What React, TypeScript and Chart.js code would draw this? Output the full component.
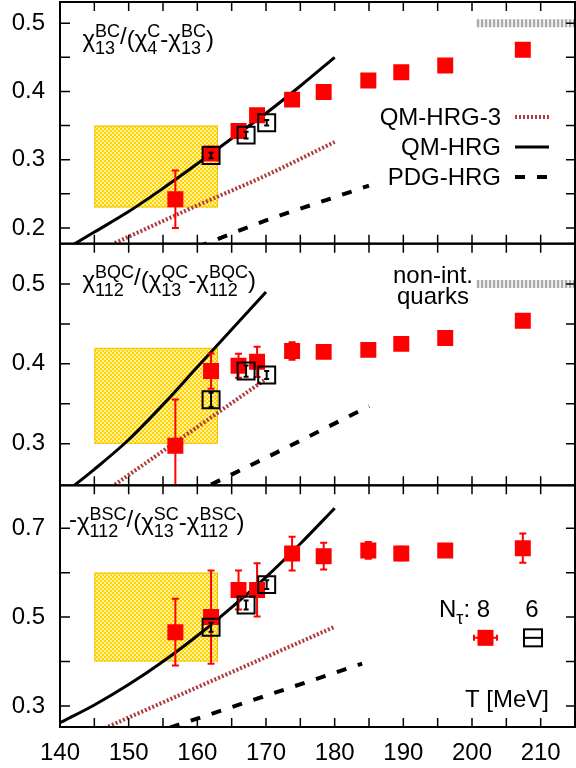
import React, { useEffect, useRef } from 'react';
import { Chart, registerables } from 'chart.js';

Chart.register(...registerables);

const FONT = '"Liberation Sans", Arimo, Arial, Helvetica, sans-serif';

// ---------------- data ----------------
const latticeT8 = [156.8, 162, 166, 168.7, 173.8, 178.4, 184.9, 189.7, 196.1, 207.4];
const latticeT6 = [162, 167.1, 170.1];

// panel 1: chi13^BC / (chi4^C - chi13^BC)
const bcNt8 = [0.242, 0.309, 0.342, 0.365, 0.388, 0.399, 0.416, 0.428, 0.438, 0.461];
const bcNt8Err = [0.042, 0.004, 0.004, 0.004, 0.004, 0.003, 0.003, 0.003, 0.003, 0.003];
const bcNt6 = [0.306, 0.336, 0.354];
const bcNt6Err = [0.004, 0.005, 0.004];
const bcQmT = [140, 145, 150, 155, 160, 165, 170, 175, 180];
const bcQm = [0.164, 0.194, 0.224, 0.258, 0.294, 0.331, 0.368, 0.408, 0.45];
const bcQm3T = [148, 160, 170, 180];
const bcQm3 = [0.178, 0.233, 0.277, 0.326];
const bcPdgT = [160, 170, 180, 185];
const bcPdg = [0.172, 0.211, 0.245, 0.262];
const bcBox = [0.23, 0.35];

// panel 2: chi112^BQC / (chi13^QC - chi112^BQC)
const bqcNt8 = [0.2975, 0.391, 0.3975, 0.4025, 0.416, 0.415, 0.4175, 0.425, 0.4325, 0.454];
const bqcNt8Err = [0.058, 0.022, 0.015, 0.019, 0.011, 0.005, 0.004, 0.004, 0.004, 0.004];
const bqcNt6 = [0.355, 0.391, 0.386];
const bqcNt6Err = [0.009, 0.007, 0.005];
const bqcQmT = [140, 145, 150, 155, 160, 165, 170];
const bqcQm = [0.234, 0.268, 0.305, 0.349, 0.396, 0.443, 0.49];
const bqcQm3T = [148, 160, 170];
const bqcQm3 = [0.249, 0.321, 0.381];
const bqcPdgT = [162, 172, 185];
const bqcPdg = [0.249, 0.291, 0.347];
const bqcBox = [0.3, 0.42];

// panel 3: -chi112^BSC / (chi13^SC - chi112^BSC)
const bscNt8 = [0.466, 0.5, 0.561, 0.561, 0.643, 0.637, 0.65, 0.643, 0.65, 0.655];
const bscNt8Err = [0.075, 0.105, 0.044, 0.06, 0.038, 0.03, 0.019, 0.015, 0.012, 0.033];
const bscNt6 = [0.477, 0.527, 0.573];
const bscNt6Err = [0.01, 0.01, 0.01];
const bscQmT = [140, 145, 150, 155, 160, 165, 170, 175, 180];
const bscQm = [0.262, 0.302, 0.348, 0.4, 0.458, 0.522, 0.59, 0.665, 0.745];
const bscQm3T = [146.5, 160, 170, 180];
const bscQm3 = [0.25, 0.342, 0.41, 0.478];
const bscPdgT = [156, 170, 184];
const bscPdg = [0.251, 0.323, 0.395];
const bscBox = [0.4, 0.6];

const boxT = [145, 163];
const quarkT = [200.7, 215];
const quarkLimit = 0.5;

const modelLabels = ['QM-HRG-3', 'QM-HRG', 'PDG-HRG'];
const ntLabels = ['8', '6'];
const quarkLabel = ['non-int.', 'quarks'];
const xTitle = 'T [MeV]';

type Seg = { b: string; sub?: string; sup?: string; dy?: number };
const panelTitles: Seg[][] = [
  [{ b: 'χ', sub: '13', sup: 'BC' }, { b: '/', dy: -3 }, { b: '(χ', sub: '4', sup: 'C' }, { b: '-χ', sub: '13', sup: 'BC' }, { b: ')' }],
  [{ b: 'χ', sub: '112', sup: 'BQC' }, { b: '/', dy: -3 }, { b: '(χ', sub: '13', sup: 'QC' }, { b: '-χ', sub: '112', sup: 'BQC' }, { b: ')' }],
  [{ b: '-', dy: -3 }, { b: 'χ', sub: '112', sup: 'BSC' }, { b: '/', dy: -3 }, { b: '(χ', sub: '13', sup: 'SC' }, { b: '-χ', sub: '112', sup: 'BSC' }, { b: ')' }],
];

// ---------------- helpers ----------------
const pts = (xs: number[], ys: number[]) => xs.map((x, i) => ({ x, y: ys[i] }));

const styleQM3 = { borderColor: '#b03a3a', borderWidth: 4, borderDash: [2, 2] };
const styleQM = { borderColor: '#000000', borderWidth: 3, borderDash: [] as number[] };
const stylePDG = { borderColor: '#000000', borderWidth: 4, borderDash: [10, 12] };
const styleQuark = { borderColor: '#aaaaaa', borderWidth: 8, borderDash: [2.5, 1.5] };

function curve(axis: string, xs: number[], ys: number[], style: any) {
  return {
    yAxisID: axis,
    data: pts(xs, ys),
    showLine: true,
    pointRadius: 0,
    pointHoverRadius: 0,
    fill: false,
    order: 2,
    cubicInterpolationMode: 'monotone',
    borderCapStyle: 'butt',
    ...style,
  };
}

function nt8(axis: string, vals: number[], errs: number[]) {
  return {
    yAxisID: axis,
    data: pts(latticeT8, vals),
    errors: errs,
    errorColor: '#ff0000',
    cap: 3.5,
    pointStyle: 'rect',
    pointRadius: 11.3,
    pointHoverRadius: 11.3,
    backgroundColor: '#ff0000',
    borderColor: '#ff0000',
    borderWidth: 0,
    order: 1,
  };
}

function nt6(axis: string, vals: number[], errs: number[]) {
  return {
    yAxisID: axis,
    data: pts(latticeT6, vals),
    errors: errs,
    errorColor: '#000000',
    cap: 2.5,
    pointStyle: 'rect',
    pointRadius: 12,
    pointHoverRadius: 12,
    backgroundColor: 'rgba(0,0,0,0)',
    borderColor: '#000000',
    borderWidth: 2,
    order: 0,
  };
}

const panelIds = ['y1', 'y2', 'y3'];
const panelBoxes = [bcBox, bqcBox, bscBox];

function drawRich(ctx: CanvasRenderingContext2D, segs: Seg[], x: number, y: number, main: number, small: number) {
  let cx = x;
  ctx.textAlign = 'left';
  ctx.textBaseline = 'alphabetic';
  for (const s of segs) {
    ctx.font = `${main}px ${FONT}`;
    ctx.fillText(s.b, cx, y + (s.dy || 0));
    cx += ctx.measureText(s.b).width;
    ctx.font = `${small}px ${FONT}`;
    let w = 0;
    if (s.sub) {
      ctx.fillText(s.sub, cx, y + 7.5);
      w = Math.max(w, ctx.measureText(s.sub).width);
    }
    if (s.sup) {
      ctx.fillText(s.sup, cx, y - 10);
      w = Math.max(w, ctx.measureText(s.sup).width);
    }
    cx += w;
  }
}

let patternCache: CanvasPattern | null = null;
function getPattern(ctx: CanvasRenderingContext2D) {
  if (patternCache) return patternCache;
  const c = document.createElement('canvas');
  c.width = 4;
  c.height = 4;
  const g = c.getContext('2d')!;
  g.fillStyle = '#fff1a0';
  g.fillRect(0, 0, 4, 4);
  g.fillStyle = '#ffd400';
  g.fillRect(0, 0, 2, 2);
  g.fillRect(2, 2, 2, 2);
  patternCache = ctx.createPattern(c, 'repeat');
  return patternCache;
}

const physicsPlugin = {
  id: 'physics',
  beforeDatasetsDraw(chart: any) {
    const ctx: CanvasRenderingContext2D = chart.ctx;
    const xs = chart.scales.x;
    panelBoxes.forEach((b, i) => {
      const ys = chart.scales[panelIds[i]];
      const l = xs.getPixelForValue(boxT[0]);
      const r = xs.getPixelForValue(boxT[1]);
      const t = ys.getPixelForValue(b[1]);
      const bt = ys.getPixelForValue(b[0]);
      ctx.save();
      ctx.fillStyle = getPattern(ctx) as any;
      ctx.fillRect(l, t, r - l, bt - t);
      ctx.strokeStyle = '#f0c400';
      ctx.lineWidth = 1;
      ctx.strokeRect(l + 0.5, t + 0.5, r - l - 1, bt - t - 1);
      ctx.restore();
    });
  },
  beforeDatasetDraw(chart: any, args: any) {
    const ctx: CanvasRenderingContext2D = chart.ctx;
    const meta = args.meta;
    const ys = meta.yScale;
    const area = chart.chartArea;
    ctx.save();
    ctx.beginPath();
    ctx.rect(area.left, ys.top, area.right - area.left, ys.bottom - ys.top);
    ctx.clip();
    const ds = chart.data.datasets[args.index];
    if (ds.errors) {
      ctx.strokeStyle = ds.errorColor;
      ctx.lineWidth = 2;
      meta.data.forEach((el: any, i: number) => {
        const e = ds.errors[i];
        if (!e) return;
        const v = ds.data[i].y;
        const y0 = ys.getPixelForValue(v - e);
        const y1 = ys.getPixelForValue(v + e);
        const px = el.x;
        const c = ds.cap;
        ctx.beginPath();
        ctx.moveTo(px, y0);
        ctx.lineTo(px, y1);
        ctx.moveTo(px - c, y0);
        ctx.lineTo(px + c, y0);
        ctx.moveTo(px - c, y1);
        ctx.lineTo(px + c, y1);
        ctx.stroke();
      });
    }
  },
  afterDatasetDraw(chart: any) {
    chart.ctx.restore();
  },
  afterDraw(chart: any) {
    const ctx: CanvasRenderingContext2D = chart.ctx;
    const area = chart.chartArea;
    const xs = chart.scales.x;
    const L = area.left;
    const R = area.right;
    ctx.save();
    ctx.strokeStyle = '#000';
    ctx.fillStyle = '#000';

    panelIds.forEach((id, pi) => {
      const ys = chart.scales[id];
      ctx.lineWidth = 1.5;
      ctx.beginPath();
      xs.ticks.forEach((t: any) => {
        const px = xs.getPixelForValue(t.value);
        if (px <= L + 2 || px >= R - 2) return;
        ctx.moveTo(px, ys.top);
        ctx.lineTo(px, ys.top + 9);
        ctx.moveTo(px, ys.bottom);
        ctx.lineTo(px, ys.bottom - 9);
      });
      ys.ticks.forEach((t: any) => {
        const py = ys.getPixelForValue(t.value);
        if (py <= ys.top + 2 || py >= ys.bottom - 2) return;
        ctx.moveTo(L, py);
        ctx.lineTo(L + 10, py);
        ctx.moveTo(R, py);
        ctx.lineTo(R - 9, py);
      });
      ctx.stroke();
      ctx.lineWidth = 2;
      ctx.strokeRect(L, ys.top, R - L, ys.bottom - ys.top);
      drawRich(ctx, panelTitles[pi], pi === 2 ? 69 : 82.5, ys.top + 44.5, 24, 18);
    });

    const p1 = chart.scales.y1;
    const styles = [styleQM3, styleQM, stylePDG];
    ctx.font = `24px ${FONT}`;
    ctx.textAlign = 'right';
    ctx.textBaseline = 'alphabetic';
    modelLabels.forEach((lab, i) => {
      const by = p1.top + 123 + 30 * i;
      ctx.fillStyle = '#000';
      ctx.fillText(lab, 501, by);
      const s = styles[i];
      ctx.beginPath();
      ctx.strokeStyle = s.borderColor;
      ctx.lineWidth = s.borderWidth;
      ctx.setLineDash(s.borderDash);
      ctx.lineCap = 'butt';
      ctx.moveTo(515, by - 8);
      ctx.lineTo(549, by - 8);
      ctx.stroke();
      ctx.setLineDash([]);
    });

    const p2 = chart.scales.y2;
    ctx.fillStyle = '#000';
    ctx.textAlign = 'center';
    ctx.fillText(quarkLabel[0], 433, p2.top + 39.5);
    ctx.fillText(quarkLabel[1], 433, p2.top + 60.5);

    const p3 = chart.scales.y3;
    drawRich(ctx, [{ b: 'N', sub: 'τ' }, { b: ': ' + ntLabels[0] }], 439, p3.top + 131.5, 24, 18);
    ctx.font = `24px ${FONT}`;
    ctx.textAlign = 'center';
    ctx.fillText(ntLabels[1], 532, p3.top + 131.5);
    const sy = p3.top + 152.5;
    ctx.strokeStyle = '#ff0000';
    ctx.fillStyle = '#ff0000';
    ctx.lineWidth = 2;
    ctx.beginPath();
    ctx.moveTo(474, sy);
    ctx.lineTo(497, sy);
    ctx.moveTo(474, sy - 3);
    ctx.lineTo(474, sy + 3);
    ctx.moveTo(497, sy - 3);
    ctx.lineTo(497, sy + 3);
    ctx.stroke();
    ctx.fillRect(477.5, sy - 8, 16, 16);
    ctx.strokeStyle = '#000';
    ctx.lineWidth = 2;
    ctx.strokeRect(524, sy - 8.5, 18, 17);
    ctx.beginPath();
    ctx.moveTo(524, sy);
    ctx.lineTo(542, sy);
    ctx.stroke();

    ctx.fillStyle = '#000';
    ctx.font = `24px ${FONT}`;
    ctx.textAlign = 'right';
    ctx.fillText(xTitle, 549, p3.top + 221.5);
    ctx.restore();
  },
};

const tickFont = { family: FONT, size: 24 };

const zeroPad = (s: any) => {
  s.paddingTop = 0;
  s.paddingBottom = 0;
  s.paddingLeft = 0;
  s.paddingRight = 0;
};

function yAxis(min: number, max: number, step: number, weight: number, labelFn: (v: number) => string) {
  return {
    type: 'linear',
    position: 'left',
    stack: 'panels',
    stackWeight: 1,
    weight,
    min,
    max,
    grid: { display: false, drawTicks: false },
    border: { display: false },
    ticks: {
      stepSize: step,
      includeBounds: false,
      autoSkip: false,
      padding: 15,
      color: '#000',
      font: tickFont,
      callback: (v: any) => labelFn(Number(v)),
    },
    afterFit: (s: any) => {
      s.width = 60;
      zeroPad(s);
    },
  };
}

const tenth = (v: number) => {
  const k = v * 10;
  return Math.abs(k - Math.round(k)) < 1e-6 ? (Math.round(k) / 10).toFixed(1) : '';
};
const oddTenth = (v: number) => {
  const k = Math.round(v * 10);
  return Math.abs(v * 10 - k) < 1e-6 && k % 2 === 1 ? (k / 10).toFixed(1) : '';
};

export default function App() {
  const ref = useRef<HTMLCanvasElement>(null);
  useEffect(() => {
    document.body.style.margin = '0';
    const canvas = ref.current!;
    const datasets: any[] = [
      curve('y1', bcQm3T, bcQm3, styleQM3),
      curve('y1', bcQmT, bcQm, styleQM),
      curve('y1', bcPdgT, bcPdg, stylePDG),
      curve('y1', quarkT, quarkT.map(() => quarkLimit), styleQuark),
      nt8('y1', bcNt8, bcNt8Err),
      nt6('y1', bcNt6, bcNt6Err),

      curve('y2', bqcQm3T, bqcQm3, styleQM3),
      curve('y2', bqcQmT, bqcQm, styleQM),
      curve('y2', bqcPdgT, bqcPdg, stylePDG),
      curve('y2', quarkT, quarkT.map(() => quarkLimit), styleQuark),
      nt8('y2', bqcNt8, bqcNt8Err),
      nt6('y2', bqcNt6, bqcNt6Err),

      curve('y3', bscQm3T, bscQm3, styleQM3),
      curve('y3', bscQmT, bscQm, styleQM),
      curve('y3', bscPdgT, bscPdg, stylePDG),
      nt8('y3', bscNt8, bscNt8Err),
      nt6('y3', bscNt6, bscNt6Err),
    ];
    const chart = new Chart(canvas, {
      type: 'scatter',
      data: { datasets },
      options: {
        animation: false,
        responsive: false,
        events: [],
        layout: { autoPadding: false, padding: { top: 2, right: 1, left: 0, bottom: 0 } },
        plugins: { legend: { display: false }, tooltip: { enabled: false } },
        scales: {
          x: {
            type: 'linear',
            position: 'bottom',
            min: 140,
            max: 215,
            grid: { display: false, drawTicks: false },
            border: { display: false },
            ticks: {
              stepSize: 5,
              includeBounds: false,
              autoSkip: false,
              maxRotation: 0,
              padding: 12,
              color: '#000',
              font: tickFont,
              callback: (v: any) => (Number(v) % 10 === 0 ? String(v) : ''),
            },
            afterFit: (s: any) => {
              s.height = 41;
              zeroPad(s);
            },
          },
          y1: yAxis(0.177, 0.531, 0.05, 3, tenth),
          y2: yAxis(0.248, 0.5504, 0.05, 2, tenth),
          y3: yAxis(0.2525, 0.7965, 0.1, 1, oddTenth),
        } as any,
      },
      plugins: [physicsPlugin as any],
    } as any);
    return () => chart.destroy();
  }, []);
  return (
    <div style={{ position: 'absolute', left: 0, top: 0, width: 576, height: 768 }}>
      <canvas ref={ref} width={576} height={768} style={{ display: 'block', width: 576, height: 768 }} />
    </div>
  );
}
